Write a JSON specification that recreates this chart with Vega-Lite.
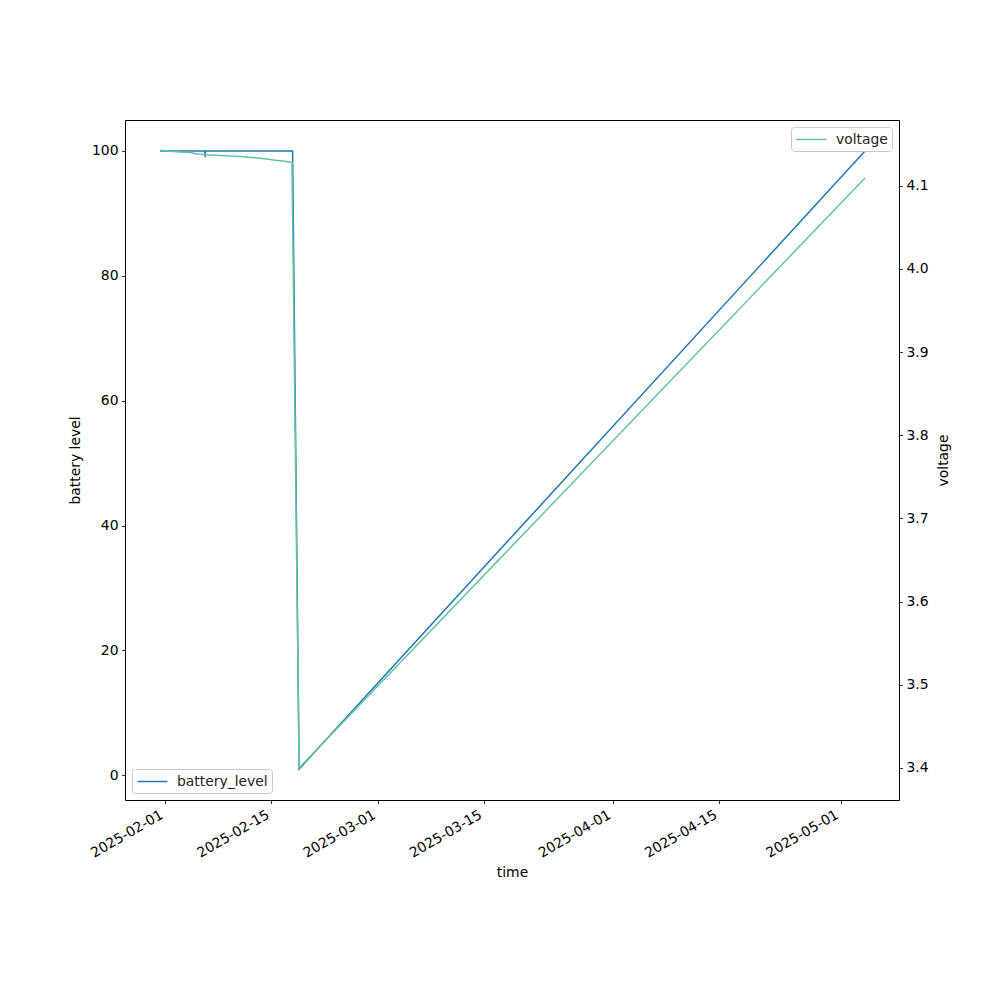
{
  "$schema": "https://vega.github.io/schema/vega-lite/v6.json",
  "width": 774,
  "height": 680,
  "autosize": {"type": "none"},
  "padding": {"left": 125, "top": 120, "right": 101, "bottom": 200},
  "background": "white",
  "config": {
    "view": {"stroke": "black", "strokeWidth": 1},
    "font": "DejaVu Sans",
    "axis": {
      "grid": false, "domain": false,
      "labelFont": "DejaVu Sans", "labelFontSize": 13.9, "labelColor": "black",
      "tickColor": "black", "tickSize": 3.5, "tickWidth": 0.8, "labelPadding": 3.5,
      "titleFont": "DejaVu Sans", "titleFontSize": 13.9, "titleFontWeight": "normal", "titleColor": "black"
    },
    "legend": {
      "labelFont": "DejaVu Sans", "labelFontSize": 13.9, "labelColor": "#222222",
      "strokeColor": "#cccccc", "fillColor": "white", "cornerRadius": 3,
      "padding": 4, "symbolType": "M-2,0H2", "symbolSize": 225, "symbolStrokeWidth": 1.5,
      "symbolOffset": 8, "labelOffset": 16, "offset": 7
    }
  },
  "datasets": {
    "battery": [
      {"time": "2025-01-31T08:10:00", "battery_level": 100},
      {"time": "2025-02-06T06:00:00", "battery_level": 100},
      {"time": "2025-02-06T06:30:00", "battery_level": 99},
      {"time": "2025-02-06T07:00:00", "battery_level": 100},
      {"time": "2025-02-17T19:00:00", "battery_level": 100},
      {"time": "2025-02-18T15:40:00", "battery_level": 1},
      {"time": "2025-05-04T05:30:00", "battery_level": 100}
    ],
    "volt": [
      {"time": "2025-01-31T08:10:00", "voltage": 4.1425},
      {"time": "2025-02-01T15:50:00", "voltage": 4.1415},
      {"time": "2025-02-02T23:25:00", "voltage": 4.1406},
      {"time": "2025-02-04T07:00:00", "voltage": 4.1400},
      {"time": "2025-02-05T05:10:00", "voltage": 4.1380},
      {"time": "2025-02-06T06:30:00", "voltage": 4.1373},
      {"time": "2025-02-07T14:00:00", "voltage": 4.1367},
      {"time": "2025-02-08T21:40:00", "voltage": 4.1361},
      {"time": "2025-02-10T21:10:00", "voltage": 4.1350},
      {"time": "2025-02-12T20:35:00", "voltage": 4.1337},
      {"time": "2025-02-14T04:10:00", "voltage": 4.1325},
      {"time": "2025-02-15T11:50:00", "voltage": 4.1307},
      {"time": "2025-02-16T19:25:00", "voltage": 4.1295},
      {"time": "2025-02-17T11:30:00", "voltage": 4.1283},
      {"time": "2025-02-17T17:00:00", "voltage": 4.1280},
      {"time": "2025-02-18T15:40:00", "voltage": 3.400},
      {"time": "2025-05-04T05:30:00", "voltage": 4.1093}
    ]
  },
  "layer": [
    {
      "data": {"name": "battery"},
      "mark": {"type": "line", "strokeWidth": 1.5},
      "encoding": {
        "x": {
          "field": "time", "type": "temporal", "title": "time",
          "scale": {"domain": [{"year": 2025, "month": 1, "date": 26, "hours": 17}, {"year": 2025, "month": 5, "date": 8, "hours": 17}], "nice": false},
          "axis": {
            "values": [
              {"year": 2025, "month": 2, "date": 1}, {"year": 2025, "month": 2, "date": 15},
              {"year": 2025, "month": 3, "date": 1}, {"year": 2025, "month": 3, "date": 15},
              {"year": 2025, "month": 4, "date": 1}, {"year": 2025, "month": 4, "date": 15},
              {"year": 2025, "month": 5, "date": 1}
            ],
            "format": "%Y-%m-%d", "labelAngle": -30, "labelAlign": "right", "labelBaseline": "top",
            "labelPadding": 4, "labelOffset": -7, "titlePadding": 6, "labelOverlap": false, "labelFlush": false
          }
        },
        "y": {
          "field": "battery_level", "type": "quantitative", "title": "battery level",
          "scale": {"domain": [-3.95, 104.95], "nice": false, "zero": false},
          "axis": {"values": [0, 20, 40, 60, 80, 100], "orient": "left", "titlePadding": 9}
        },
        "color": {
          "datum": "battery_level", "type": "nominal",
          "scale": {"range": ["#1f77b4"]},
          "legend": {"title": null, "orient": "bottom-left"}
        }
      }
    },
    {
      "data": {"name": "volt"},
      "mark": {"type": "line", "strokeWidth": 1.5},
      "encoding": {
        "x": {"field": "time", "type": "temporal"},
        "y": {
          "field": "voltage", "type": "quantitative", "title": "voltage",
          "scale": {"domain": [3.3615, 4.179], "nice": false, "zero": false},
          "axis": {"values": [3.4, 3.5, 3.6, 3.7, 3.8, 3.9, 4.0, 4.1], "format": ".1f", "orient": "right", "titleAngle": 270, "titlePadding": 22}
        },
        "color": {
          "datum": "voltage", "type": "nominal",
          "scale": {"range": ["#66c2a5"]},
          "legend": {"title": null, "orient": "top-right"}
        }
      }
    }
  ],
  "resolve": {"scale": {"y": "independent", "color": "independent"}, "legend": {"color": "independent"}}
}
